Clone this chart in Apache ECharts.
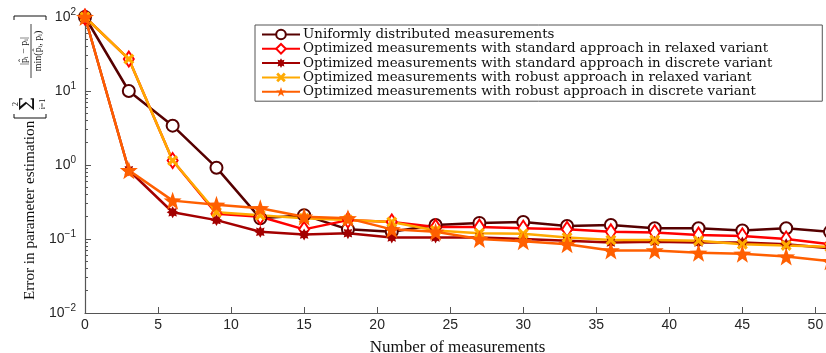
<!DOCTYPE html>
<html>
<head>
<meta charset="utf-8">
<script src="https://cdn.jsdelivr.net/npm/echarts@6/dist/echarts.min.js"></script>
<style>
  html, body { margin: 0; padding: 0; background: #fff; }
  #chart { width: 826px; height: 353px; }
</style>
</head>
<body>
<div id="chart"></div>
<script>
// 数据
const measurements = [0, 3, 6, 9, 12, 15, 18, 21, 24, 27, 30, 33, 36, 39, 42, 45, 48, 51]
const uniform = [100, 10, 3.4, 0.92, 0.19, 0.21, 0.135, 0.125, 0.155, 0.165, 0.17, 0.15, 0.155, 0.14, 0.14, 0.13, 0.14, 0.125]
const stdRelaxed = [100, 27, 1.15, 0.22, 0.2, 0.135, 0.18, 0.17, 0.145, 0.145, 0.14, 0.135, 0.125, 0.122, 0.113, 0.11, 0.1, 0.085]
const stdDiscrete = [100, 0.85, 0.23, 0.18, 0.125, 0.115, 0.12, 0.105, 0.105, 0.105, 0.1, 0.095, 0.09, 0.092, 0.09, 0.09, 0.085, 0.075]
const robRelaxed = [100, 27, 1.15, 0.23, 0.21, 0.19, 0.18, 0.17, 0.13, 0.12, 0.118, 0.105, 0.097, 0.097, 0.095, 0.085, 0.082, 0.078]
const robDiscrete = [100, 0.85, 0.33, 0.29, 0.26, 0.2, 0.19, 0.135, 0.125, 0.1, 0.093, 0.085, 0.07, 0.07, 0.065, 0.063, 0.058, 0.05]
const seriesNames = [
  'Uniformly distributed measurements',
  'Optimized measurements with standard approach in relaxed variant',
  'Optimized measurements with standard approach in discrete variant',
  'Optimized measurements with robust approach in relaxed variant',
  'Optimized measurements with robust approach in discrete variant'
]
const yTicks = [0.01, 0.1, 1, 10, 100]

// 颜色
const colors = ['#560000', '#ff0000', '#a30000', '#ffaa00', '#ff5f00']

// 标记形状
function polyPath(pts) {
  return 'path://' + pts.map((p, i) => (i ? 'L' : 'M') + p[0].toFixed(3) + ' ' + p[1].toFixed(3)).join(' ') + ' Z'
}
function starPts(n, rOut, rIn) {
  const pts = []
  for (let i = 0; i < n * 2; i++) {
    const r = i % 2 ? rIn : rOut
    const a = -Math.PI / 2 + i * Math.PI / n
    pts.push([r * Math.cos(a), r * Math.sin(a)])
  }
  return pts
}
function crossPts(w) {
  const base = [[w, 1], [w, w], [1, w], [1, -w], [w, -w], [w, -1], [-w, -1], [-w, -w], [-1, -w], [-1, w], [-w, w], [-w, 1]]
  const c = Math.cos(Math.PI / 4), s = Math.sin(Math.PI / 4)
  return base.map(p => [p[0] * c - p[1] * s, p[0] * s + p[1] * c])
}
const asteriskSymbol = polyPath(starPts(8, 1, 0.62))
const xSymbol = polyPath(crossPts(0.26))
const starSymbol = polyPath(starPts(5, 1, 0.4))

// 次刻度
const minorTicks = []
for (let e = -2; e < 2; e++) {
  for (let k = 2; k <= 9; k++) minorTicks.push(+(k * Math.pow(10, e)).toPrecision(3))
}

const chart = echarts.init(document.getElementById('chart'), null, { renderer: 'canvas' })

function pairs(vals) {
  return measurements.map((x, i) => [x, vals[i]])
}

const axisColor = '#555'
const textColor = '#111'
const labelFont = { fontFamily: 'Liberation Sans', fontSize: 14, color: '#262626' }

// 纵轴标题（旋转的公式）
function t(text, x, y, size, family, align) {
  return {
    type: 'text', x: x, y: y,
    style: { text: text, fontSize: size, fontFamily: family || 'Liberation Serif', fill: textColor, align: align || 'center', verticalAlign: 'middle' }
  }
}
function bracket(x, dir) {
  return {
    type: 'polyline',
    shape: { points: [[x + 4 * dir, -16], [x, -16], [x, 16], [x + 4 * dir, 16]] },
    style: { stroke: textColor, lineWidth: 1, fill: null }
  }
}
const yTitle = {
  type: 'group',
  x: 30,
  y: 300,
  rotation: Math.PI / 2,
  children: [
    t('Error in parameter estimation', 0, 0, 15.2, null, 'left'),
    bracket(182, 1),
    t('Σ', 196, -1, 20, 'DejaVu Serif'),
    t('2', 196, -14, 8),
    t('i=1', 196, 13, 8),
    t('|p̂ᵢ − pᵢ|', 249, -6, 10),
    { type: 'line', shape: { x1: 222, y1: 1, x2: 276, y2: 1 }, style: { stroke: textColor, lineWidth: 0.8 } },
    t('min(p̂ᵢ, pᵢ)', 249, 8, 10),
    bracket(284, -1)
  ]
}

const option = {
  animation: false,
  grid: { left: 85, top: 17, right: -4, bottom: 40, containLabel: false, outerBoundsMode: 'none' },
  graphic: [yTitle],
  legend: {
    orient: 'vertical',
    left: 255,
    top: 25,
    padding: [3, 50, 3, 6],
    itemGap: 1.3,
    itemWidth: 38,
    itemHeight: 12,
    borderColor: '#555',
    borderWidth: 1,
    textStyle: { fontFamily: 'DejaVu Serif', fontSize: 13.4, color: textColor, lineHeight: 13, padding: [0, 0, 0, -2] },
    data: seriesNames
  },
  xAxis: {
    type: 'value',
    min: 0,
    max: 51,
    interval: 5,
    name: 'Number of measurements',
    nameLocation: 'middle',
    nameGap: 26,
    nameTextStyle: { fontFamily: 'Liberation Serif', fontSize: 17, color: textColor },
    axisLine: { lineStyle: { color: axisColor, width: 1.2 } },
    axisTick: { inside: true, length: 6, lineStyle: { color: axisColor } },
    axisLabel: { ...labelFont, margin: 5, showMaxLabel: false },
    splitLine: { show: false }
  },
  yAxis: [
    {
      type: 'log',
      logBase: 10,
      min: 0.01,
      max: 100,
      axisLine: { show: true, lineStyle: { color: axisColor, width: 1.2 } },
      axisTick: { inside: true, length: 6, lineStyle: { color: axisColor }, customValues: yTicks },
      axisLabel: {
        customValues: yTicks,
        margin: 9,
        formatter: function (v) {
          const e = Math.round(Math.log10(v))
          return '{b|10}{s|' + (e < 0 ? '−' + (-e) : e) + '}'
        },
        rich: {
          b: { ...labelFont },
          s: { ...labelFont, fontSize: 10, padding: [0, 0, 9, 0] }
        }
      },
      splitLine: { show: false }
    },
    {
      type: 'log',
      logBase: 10,
      min: 0.01,
      max: 100,
      position: 'left',
      axisLine: { show: false },
      axisTick: { show: true, inside: true, length: 3, lineStyle: { color: axisColor }, customValues: minorTicks },
      axisLabel: { show: false },
      splitLine: { show: false }
    }
  ],
  series: [
    {
      name: seriesNames[0],
      type: 'line',
      data: pairs(uniform),
      symbol: 'emptyCircle',
      symbolSize: 12,
      color: colors[0],
      lineStyle: { width: 2.5, color: colors[0] },
      itemStyle: { color: colors[0], borderWidth: 2.5 }
    },
    {
      name: seriesNames[1],
      type: 'line',
      data: pairs(stdRelaxed),
      symbol: 'emptyDiamond',
      symbolSize: [10, 15],
      color: colors[1],
      lineStyle: { width: 2.5, color: colors[1] },
      itemStyle: { color: colors[1], borderWidth: 2.2 }
    },
    {
      name: seriesNames[2],
      type: 'line',
      data: pairs(stdDiscrete),
      symbol: asteriskSymbol,
      symbolSize: 12,
      color: colors[2],
      lineStyle: { width: 2.5, color: colors[2] },
      itemStyle: { color: colors[2] }
    },
    {
      name: seriesNames[3],
      type: 'line',
      data: pairs(robRelaxed),
      symbol: xSymbol,
      symbolSize: 11,
      color: colors[3],
      lineStyle: { width: 2.5, color: colors[3] },
      itemStyle: { color: colors[3] }
    },
    {
      name: seriesNames[4],
      type: 'line',
      data: pairs(robDiscrete),
      symbol: starSymbol,
      symbolSize: 18,
      color: colors[4],
      lineStyle: { width: 2.5, color: colors[4] },
      itemStyle: { color: colors[4] }
    }
  ]
}

chart.setOption(option)
</script>
</body>
</html>
